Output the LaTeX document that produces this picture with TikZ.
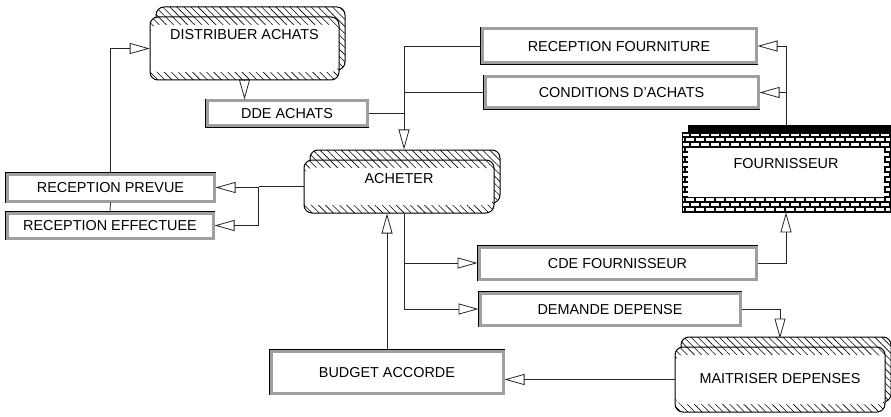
\documentclass[tikz,border=0pt]{standalone}
\usepackage{fontspec}
\setmainfont{Liberation Sans}
\usetikzlibrary{arrows.meta,patterns,patterns.meta,calc}

% brick wall fill for the external entity
\pgfdeclarepatternformonly{brickwall}{\pgfqpoint{-1pt}{-1pt}}{\pgfqpoint{11pt}{11pt}}{\pgfqpoint{10pt}{10pt}}{
  \pgfsetlinewidth{1.8pt}
  \pgfpathmoveto{\pgfqpoint{0pt}{0pt}}\pgfpathlineto{\pgfqpoint{10pt}{0pt}}
  \pgfpathmoveto{\pgfqpoint{0pt}{5pt}}\pgfpathlineto{\pgfqpoint{10pt}{5pt}}
  \pgfpathmoveto{\pgfqpoint{0pt}{0pt}}\pgfpathlineto{\pgfqpoint{0pt}{5pt}}
  \pgfpathmoveto{\pgfqpoint{5pt}{5pt}}\pgfpathlineto{\pgfqpoint{5pt}{10pt}}
  \pgfusepath{stroke}}

\tikzset{
  txt/.style={font=\fontsize{14.4}{17}\selectfont, inner sep=0pt, text height=10.5pt},
  store/.style={txt, fill=white, draw=gray!75, line width=3pt,
    preaction={draw=black, line width=4.6pt}},
  proc/.style={txt, rounded corners=8pt, draw, line width=1pt,
    preaction={fill=white, transform canvas={xshift=6pt,yshift=10pt}},
    preaction={draw, pattern={Lines[angle=-45,distance=5pt,line width=0.6pt]}, transform canvas={xshift=6pt,yshift=10pt}},
    preaction={fill=white},
    pattern={Lines[angle=-45,distance=5pt,line width=0.6pt]},
    path picture={\fill[white] ([yshift=-8pt]path picture bounding box.north west)
      rectangle ([yshift=8pt]path picture bounding box.south east);}},
  extern/.style={txt, draw, line width=0.8pt,
    preaction={fill=black, draw, transform canvas={xshift=6pt,yshift=8pt}},
    preaction={fill=white},
    pattern=brickwall,
    path picture={\fill[white] ([xshift=6pt,yshift=-15pt]path picture bounding box.north west)
      rectangle ([xshift=-6pt,yshift=15pt]path picture bounding box.south east);}},
  link/.style={draw=black!85, line width=0.8pt},
  flow/.style={link, -{Triangle[open,length=20pt,width=11pt]}}
}

\begin{document}
\begin{tikzpicture}[x=1pt,y=-1pt]
\useasboundingbox (0,0) rectangle (891,417);

% processes
\node[proc, minimum width=189pt, minimum height=63pt, text depth=27.5pt] (dist) at (244.5,48.5) {DISTRIBUER ACHATS};
\node[proc, minimum width=190pt, minimum height=53pt, text depth=17.5pt] (ach) at (399,186.5) {ACHETER};
\node[proc, minimum width=210pt, minimum height=65pt, text depth=3.5pt] (mait) at (780,379.5) {MAITRISER DEPENSES};

% external entity
\node[extern, minimum width=208pt, minimum height=79pt, text depth=19.5pt] (four) at (786,172.5) {FOURNISSEUR};

% data flows
\node[store, minimum width=160pt, minimum height=25pt] (dde) at (287,113.5) {DDE ACHATS};
\node[store, minimum width=274pt, minimum height=34pt] (rf) at (619,46) {RECEPTION FOURNITURE};
\node[store, minimum width=273pt, minimum height=31pt] (ca) at (621.5,92.5) {CONDITIONS D'ACHATS};
\node[store, minimum width=207pt, minimum height=27pt] (rp) at (110.5,187.5) {RECEPTION PREVUE};
\node[store, minimum width=206pt, minimum height=25pt] (re) at (110,225.5) {RECEPTION EFFECTUEE};
\node[store, minimum width=277pt, minimum height=32pt] (cde) at (617.5,263) {CDE FOURNISSEUR};
\node[store, minimum width=260pt, minimum height=32pt] (dd) at (610,309) {DEMANDE DEPENSE};
\node[store, minimum width=232pt, minimum height=42pt] (ba) at (387,372) {BUDGET ACCORDE};

% connectors
\coordinate (jn) at ([xshift=5pt]ach.north);
\coordinate (js) at ([xshift=5pt]ach.south);
\draw[flow] (dist.south) -- (dist.south |- dde.north);
\draw[link] (dde.east) -- (dde.east -| jn);
\draw[link] (ca.west) -- (ca.west -| jn);
\draw[flow] (rf.west) -| ([yshift=10pt]jn);

\coordinate (jw) at ([xshift=-45pt]ach.west);
\draw[link] (ach.west) -- (jw);
\draw[flow] (jw) |- (rp.east);
\draw[flow] (jw) |- (re.east);
\draw[link] (re.north) -- (rp.south);
\draw[flow] (rp.north) |- (dist.west);

\draw[flow] (js) |- (dd.west);
\draw[flow] (js |- cde.west) -- (cde.west);
\draw[flow] (ba.north) -- (ba.north |- ach.south);
\draw[flow] (mait.west) -- (mait.west -| ba.east);
\draw[flow] (dd.east) -| ([yshift=8pt]mait.north);

\draw[flow] (cde.east) -| (four.south);
\coordinate (jf) at ([yshift=8pt]four.north);
\draw[flow] (jf) |- (rf.east);
\draw[flow] (jf |- ca.east) -- (ca.east);
\end{tikzpicture}
\end{document}
